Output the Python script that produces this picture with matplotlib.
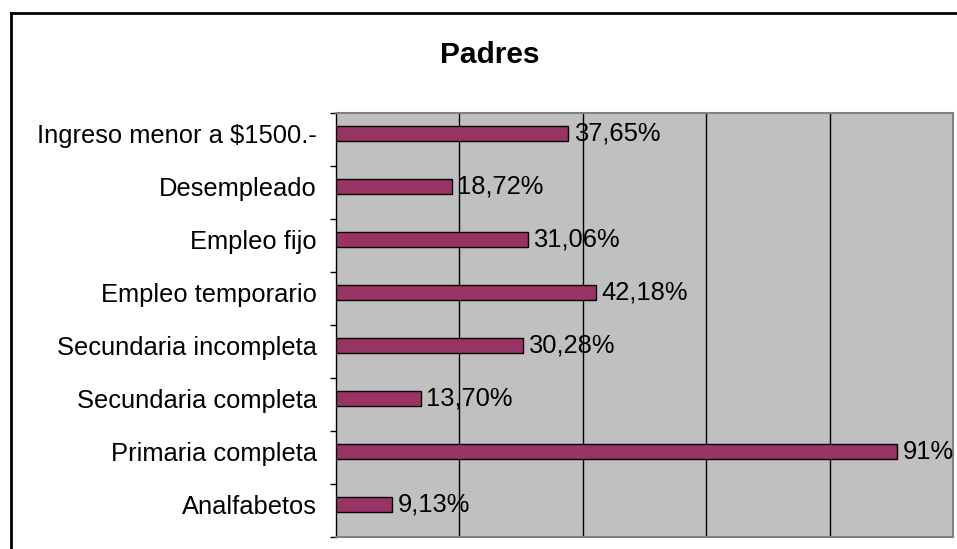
import matplotlib.pyplot as plt
from matplotlib.lines import Line2D

plt.rcParams['font.family'] = ['Liberation Sans', 'DejaVu Sans']

categorias = ["Analfabetos", "Primaria completa", "Secundaria completa",
              "Secundaria incompleta", "Empleo temporario", "Empleo fijo",
              "Desempleado", "Ingreso menor a $1500.-"]
valores = [9.13, 91, 13.70, 30.28, 42.18, 31.06, 18.72, 37.65]
etiquetas = ["9,13%", "91%", "13,70%", "30,28%", "42,18%", "31,06%", "18,72%", "37,65%"]

fig = plt.figure(figsize=(9.57, 5.49), dpi=100)
ax = fig.add_axes([336 / 957, 12 / 549, 617 / 957, 424 / 549])

pos = list(range(len(categorias)))
ax.barh(pos, valores, height=0.28, color="#993366", edgecolor="black",
        linewidth=1, zorder=3)

for p, v, t in zip(pos, valores, etiquetas):
    ax.annotate(t, xy=(v, p), xytext=(4, 0), textcoords="offset points",
                va="center", ha="left", fontsize=18.4, zorder=4)

off = 0.11
ax.set_ylim(-0.5 - off, len(categorias) - 0.5 - off)
ax.set_xlim(0, 100)
ax.set_facecolor("#C0C0C0")

ax.set_xticks([20, 40, 60, 80])
ax.grid(axis="x", color="black", linewidth=1, zorder=1)
ax.tick_params(axis="x", length=0, labelbottom=False)

ax.set_yticks(pos)
ax.set_yticklabels(categorias, fontsize=18.4)
ax.set_yticks([p - 0.5 - off for p in pos] + [len(pos) - 0.5 - off], minor=True)
ax.tick_params(axis="y", which="major", length=0, pad=14)
ax.tick_params(axis="y", which="minor", length=4.5, width=1, color="black")

for s in ["top", "right", "bottom"]:
    ax.spines[s].set_color("#808080")
    ax.spines[s].set_linewidth(1.5)
ax.spines["left"].set_color("black")
ax.spines["left"].set_linewidth(1)

# marco exterior del grafico
fig.add_artist(Line2D([11 / 957, 956 / 957], [1 - 13 / 549, 1 - 13 / 549],
                      color="black", linewidth=2, transform=fig.transFigure))
fig.add_artist(Line2D([11 / 957, 11 / 957], [0, 1 - 13 / 549],
                      color="black", linewidth=2, transform=fig.transFigure))

fig.text(490 / 957, 1 - 55 / 549, "Padres", ha="center", va="center",
         fontsize=21.5, fontweight="bold")

fig.savefig("out.png", dpi=100)
